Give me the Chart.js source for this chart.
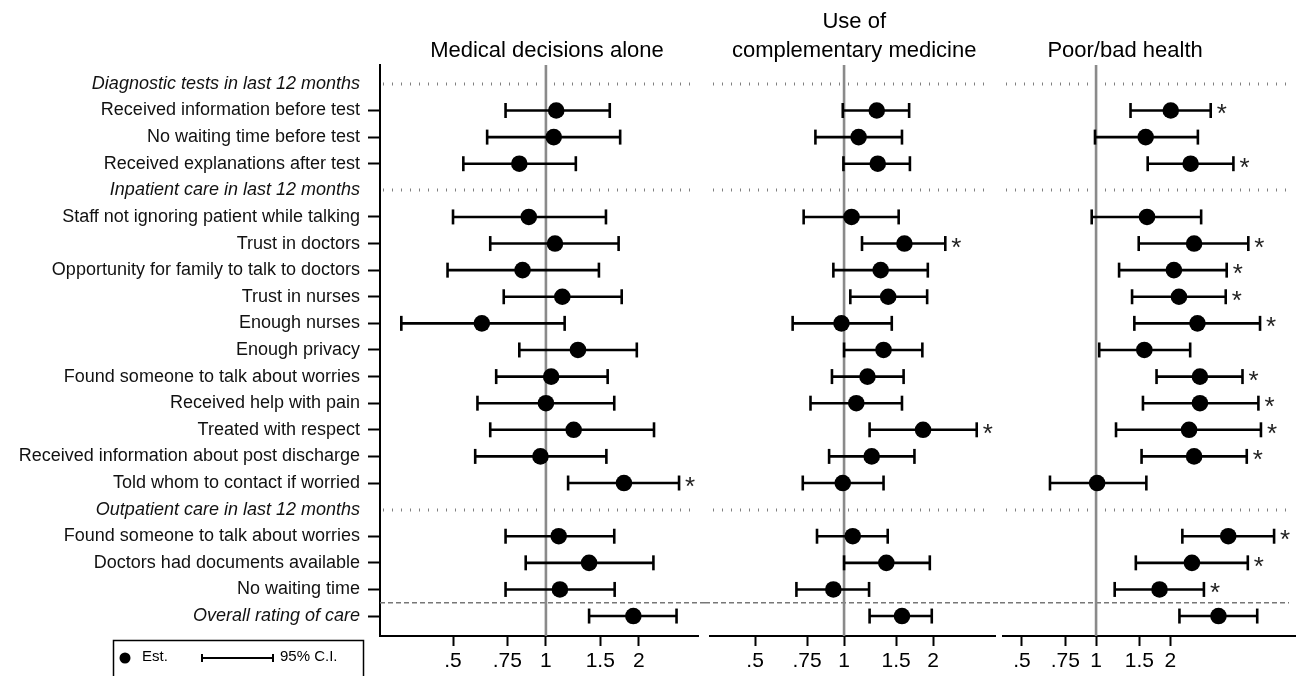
<!DOCTYPE html>
<html>
<head>
<meta charset="utf-8">
<script src="https://cdn.jsdelivr.net/npm/chart.js@4.4.1/dist/chart.umd.min.js"></script>
<style>
  body { margin: 0; background: #fff; }
  .wrap { position: relative; width: 1298px; height: 676px; overflow: hidden; }
  canvas { position: absolute; top: 0; }
</style>
</head>
<body>
<div class="wrap">
  <canvas id="p1" width="705" height="676" style="left:0px"></canvas>
  <canvas id="p2" width="295" height="676" style="left:705px"></canvas>
  <canvas id="p3" width="298" height="676" style="left:1000px"></canvas>
</div>
<script>
// rows of the forest plot (top to bottom)
const rowLabels = [
  'Diagnostic tests in last 12 months',
  'Received information before test',
  'No waiting time before test',
  'Received explanations after test',
  'Inpatient care in last 12 months',
  'Staff not ignoring patient while talking',
  'Trust in doctors',
  'Opportunity for family to talk to doctors',
  'Trust in nurses',
  'Enough nurses',
  'Enough privacy',
  'Found someone to talk about worries',
  'Received help with pain',
  'Treated with respect',
  'Received information about post discharge',
  'Told whom to contact if worried',
  'Outpatient care in last 12 months',
  'Found someone to talk about worries',
  'Doctors had documents available',
  'No waiting time',
  'Overall rating of care'
];
const headerRows = [0, 4, 16];
const italicRows = [0, 4, 16, 20];

const xTickValues = [0.5, 0.75, 1, 1.5, 2];
const xTickLabels = ['.5', '.75', '1', '1.5', '2'];

// Medical decisions alone
const medEst = [null, 1.08, 1.06, 0.82, null, 0.88, 1.07, 0.84, 1.13, 0.62, 1.27, 1.04, 1.00, 1.23, 0.96, 1.79, null, 1.10, 1.38, 1.11, 1.92];
const medLo  = [null, 0.74, 0.645, 0.54, null, 0.50, 0.66, 0.48, 0.73, 0.34, 0.82, 0.69, 0.60, 0.66, 0.59, 1.18, null, 0.74, 0.86, 0.74, 1.38];
const medHi  = [null, 1.61, 1.74, 1.25, null, 1.565, 1.72, 1.485, 1.76, 1.15, 1.97, 1.585, 1.665, 2.24, 1.57, 2.70, null, 1.665, 2.23, 1.67, 2.65];
const medSig = [15];

// Use of complementary medicine
const camEst = [null, 1.29, 1.12, 1.30, null, 1.06, 1.60, 1.33, 1.41, 0.98, 1.36, 1.20, 1.10, 1.85, 1.24, 0.99, null, 1.07, 1.39, 0.92, 1.57];
const camLo  = [null, 0.99, 0.80, 0.995, null, 0.73, 1.15, 0.92, 1.05, 0.67, 1.00, 0.91, 0.77, 1.22, 0.89, 0.725, null, 0.81, 1.00, 0.69, 1.22];
const camHi  = [null, 1.66, 1.57, 1.67, null, 1.53, 2.20, 1.92, 1.91, 1.45, 1.84, 1.59, 1.57, 2.81, 1.73, 1.36, null, 1.405, 1.95, 1.215, 1.98];
const camSig = [6, 13];

// Poor/bad health
const hltEst = [null, 2.01, 1.59, 2.42, null, 1.61, 2.50, 2.07, 2.17, 2.58, 1.57, 2.64, 2.64, 2.385, 2.50, 1.01, null, 3.44, 2.45, 1.81, 3.14];
const hltLo  = [null, 1.38, 0.99, 1.62, null, 0.96, 1.49, 1.24, 1.40, 1.43, 1.03, 1.76, 1.55, 1.205, 1.53, 0.65, null, 2.24, 1.45, 1.19, 2.18];
const hltHi  = [null, 2.92, 2.59, 3.61, null, 2.67, 4.15, 3.39, 3.36, 4.63, 2.41, 3.93, 4.56, 4.67, 4.09, 1.60, null, 5.28, 4.13, 2.74, 4.51];
const hltSig = [1, 3, 6, 7, 8, 9, 11, 12, 13, 14, 17, 18, 19];

const FONT = "'Liberation Sans', Arial, sans-serif";

function buildDatasets(est, lo, hi) {
  const pts = [];
  const sets = [];
  est.forEach((v, i) => { if (v != null) pts.push({ x: v, y: i }); });
  sets.push({
    data: pts,
    pointRadius: 8.3,
    pointHoverRadius: 8.3,
    backgroundColor: '#000',
    borderWidth: 0
  });
  lo.forEach((v, i) => {
    if (v == null) return;
    sets.push({
      data: [{ x: v, y: i }, { x: hi[i], y: i }],
      showLine: true,
      borderColor: '#000',
      borderWidth: 2.6,
      pointStyle: 'line',
      pointRotation: 90,
      pointRadius: 7.5,
      pointHoverRadius: 7.5,
      pointBorderWidth: 2.6,
      pointBorderColor: '#000'
    });
  });
  return sets;
}

const decorPlugin = {
  id: 'decor',
  beforeDatasetsDraw(chart, args, o) {
    const { ctx, chartArea: ca } = chart;
    const xs = chart.scales.x, ys = chart.scales.y;
    ctx.save();
    // dotted section lines
    ctx.strokeStyle = '#808080';
    ctx.lineWidth = 3;
    ctx.setLineDash([1, 8]);
    headerRows.forEach(r => {
      const y = Math.round(ys.getPixelForValue(r));
      ctx.beginPath();
      ctx.moveTo(ca.left + 3, y);
      ctx.lineTo(ca.right - 3, y);
      ctx.stroke();
    });
    // dashed line before overall rating
    ctx.strokeStyle = '#777';
    ctx.lineWidth = 1.3;
    ctx.setLineDash([5, 3]);
    const yd = ys.getPixelForValue(19.5);
    ctx.beginPath();
    ctx.moveTo(o.dashFrom === 'edge' ? 0 : ca.left, yd);
    ctx.lineTo(o.dashTo === 'edge' ? chart.width : ca.right - 6, yd);
    ctx.stroke();
    // reference line at 1
    ctx.setLineDash([]);
    ctx.strokeStyle = '#8a8a8a';
    ctx.lineWidth = 2.6;
    const x1 = xs.getPixelForValue(1);
    ctx.beginPath();
    ctx.moveTo(x1, ca.top);
    ctx.lineTo(x1, ca.bottom);
    ctx.stroke();
    ctx.restore();
  },
  afterDatasetsDraw(chart, args, o) {
    const { ctx } = chart;
    const xs = chart.scales.x, ys = chart.scales.y;
    ctx.save();
    ctx.fillStyle = '#222';
    ctx.font = '26px ' + FONT;
    ctx.textAlign = 'left';
    ctx.textBaseline = 'alphabetic';
    o.sig.forEach(r => {
      ctx.fillText('*', xs.getPixelForValue(o.hi[r]) + 6, ys.getPixelForValue(r) + 12);
    });
    ctx.restore();
  },
  afterDraw(chart, args, o) {
    const { ctx, chartArea: ca } = chart;
    ctx.save();
    ctx.fillStyle = '#000';
    ctx.font = '22px ' + FONT;
    ctx.textAlign = 'center';
    ctx.textBaseline = 'middle';
    const tx = ca.left + (ca.right - ca.left) * o.titleFrac;
    const n = o.title.length;
    o.title.forEach((line, k) => {
      ctx.fillText(line, tx, 51 - (n - 1 - k) * 29);
    });
    if (o.legend) {
      ctx.strokeStyle = '#000';
      ctx.lineWidth = 1.5;
      ctx.strokeRect(113.5, 640.5, 250, 50);
      ctx.beginPath();
      ctx.arc(125, 658, 5.5, 0, Math.PI * 2);
      ctx.fill();
      ctx.font = '15px ' + FONT;
      ctx.textAlign = 'left';
      ctx.fillText('Est.', 142, 657);
      ctx.lineWidth = 2;
      ctx.beginPath();
      ctx.moveTo(202, 658); ctx.lineTo(273, 658);
      ctx.moveTo(202, 654); ctx.lineTo(202, 662);
      ctx.moveTo(273, 654); ctx.lineTo(273, 662);
      ctx.stroke();
      ctx.fillText('95% C.I.', 280, 657);
    }
    ctx.restore();
  }
};

function makePanel(id, p) {
  return new Chart(document.getElementById(id), {
    type: 'scatter',
    data: { datasets: buildDatasets(p.est, p.lo, p.hi) },
    plugins: [decorPlugin],
    options: {
      responsive: false,
      animation: false,
      events: [],
      layout: { autoPadding: false, padding: { left: p.padLeft, right: p.padRight, top: 65, bottom: 0 } },
      plugins: {
        legend: { display: false },
        tooltip: { enabled: false },
        decor: {
          title: p.title, titleFrac: p.titleFrac, sig: p.sig, hi: p.hi,
          legend: p.legend, dashFrom: p.dashFrom, dashTo: p.dashTo
        }
      },
      scales: {
        x: {
          type: 'logarithmic',
          min: p.min,
          max: p.max,
          afterBuildTicks: s => { s.ticks = xTickValues.map(v => ({ value: v })); },
          afterFit: s => { s.height = 40; s.paddingLeft = 0; s.paddingRight = 0; },
          ticks: {
            autoSkip: false,
            maxRotation: 0,
            padding: 3,
            color: '#000',
            font: { family: FONT, size: 21 },
            callback: (v, i) => xTickLabels[i]
          },
          grid: { drawOnChartArea: false, drawTicks: true, tickLength: 10, tickWidth: 2, tickColor: '#000' },
          border: { display: true, color: '#000', width: 2 }
        },
        y: {
          type: 'linear',
          display: p.showY,
          reverse: true,
          min: -0.71,
          max: 20.75,
          afterBuildTicks: s => { s.ticks = rowLabels.map((_, i) => ({ value: i })); },
          afterFit: s => { if (p.showY) s.width = 380; s.paddingTop = 0; s.paddingBottom = 0; },
          ticks: {
            autoSkip: false,
            padding: 8,
            color: '#111',
            font: c => ({ family: FONT, size: 18, style: italicRows.includes(c.index) ? 'italic' : 'normal' }),
            callback: (v, i) => rowLabels[i]
          },
          grid: {
            drawOnChartArea: false,
            drawTicks: true,
            tickLength: 12,
            tickWidth: 2,
            tickColor: c => headerRows.includes(c.index) ? 'rgba(0,0,0,0)' : '#000'
          },
          border: { display: true, color: '#000', width: 2 }
        }
      }
    }
  });
}

makePanel('p1', {
  est: medEst, lo: medLo, hi: medHi, sig: medSig,
  title: ['Medical decisions alone'], titleFrac: 0.525,
  min: 0.29, max: 3.11, showY: true, padLeft: 0, padRight: 7,
  legend: true, dashFrom: 'area', dashTo: 'edge'
});
makePanel('p2', {
  est: camEst, lo: camLo, hi: camHi, sig: camSig,
  title: ['Use of', 'complementary medicine'], titleFrac: 0.506,
  min: 0.352, max: 3.24, showY: false, padLeft: 5, padRight: 5,
  legend: false, dashFrom: 'edge', dashTo: 'edge'
});
makePanel('p3', {
  est: hltEst, lo: hltLo, hi: hltHi, sig: hltSig,
  title: ['Poor/bad health'], titleFrac: 0.418,
  min: 0.419, max: 6.42, showY: false, padLeft: 3, padRight: 3,
  legend: false, dashFrom: 'edge', dashTo: 'area'
});
</script>
</body>
</html>
